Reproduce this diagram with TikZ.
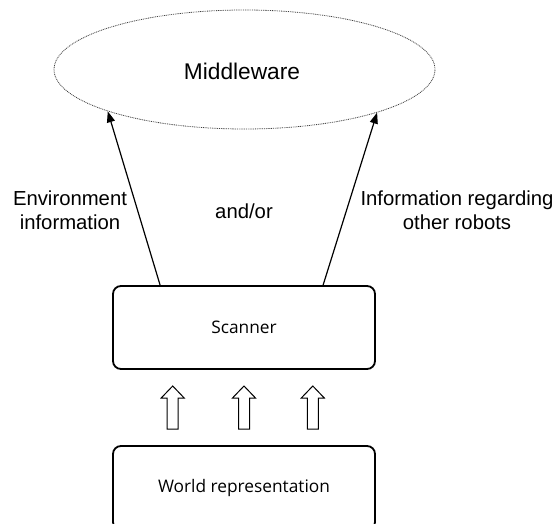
\documentclass[tikz,border=0pt]{standalone}
\usepackage{fontspec}
\setmainfont{Liberation Sans}
\newfontfamily\uifont{Open Sans}
\usetikzlibrary{shapes.geometric,arrows.meta,calc}

\tikzset{
  cloud/.style={ellipse, draw=black!75, line width=0.8pt,
    dash pattern=on 0.9pt off 0.9pt, inner sep=0pt,
    minimum width=381pt, minimum height=119pt},
  blockbox/.style={draw, line width=1.8pt, rounded corners=8pt,
    minimum width=262pt, inner sep=0pt, font=\uifont\fontsize{17.3}{20}\selectfont},
  lbl/.style={inner sep=0pt, align=center, font=\fontsize{20.3}{24}\selectfont},
  conn/.style={line width=1.2pt, -{Triangle[length=11pt,width=8pt]}},
  hollowup/.pic={
    \draw[line width=1pt, fill=white, line join=miter]
      (-5.5,0) -- (-5.5,-31) -- (-11.5,-31) -- (0,-43) -- (11.5,-31)
      -- (5.5,-31) -- (5.5,0) -- cycle;
  }
}

\begin{document}
\begin{tikzpicture}[x=1pt, y=-1pt]
  \useasboundingbox (0,0) rectangle (555,524);
  \clip (0,0) rectangle (555,524);

  % middleware cloud
  \node[cloud] (mw) at (244.5,69.5) {};
  \node[lbl, font=\fontsize{22.7}{26}\selectfont] (mwt) at (242,71) {Middleware};

  % blocks
  \node[blockbox, minimum height=83pt] (sc) at (244,327.5) {Scanner};
  \node[blockbox, minimum height=84pt] (wr) at (244,488) {World representation};

  % information flows towards the middleware
  \draw[conn] ($(sc.north west)+(48,0)$) -- (mw.197.5);
  \draw[conn] ($(sc.north west)+(211,0)$) -- (mw.342);

  % labels
  \node[lbl] (env) at (70,210.5) {Environment\\information};
  \node[lbl] (andor) at (244,211) {and/or};
  \node[lbl] (oth) at (457,210.5) {Information regarding\\other robots};

  % input from the world representation
  \pic at (172.7,429) {hollowup};
  \pic at (244,429) {hollowup};
  \pic at (312.8,429) {hollowup};
\end{tikzpicture}
\end{document}
